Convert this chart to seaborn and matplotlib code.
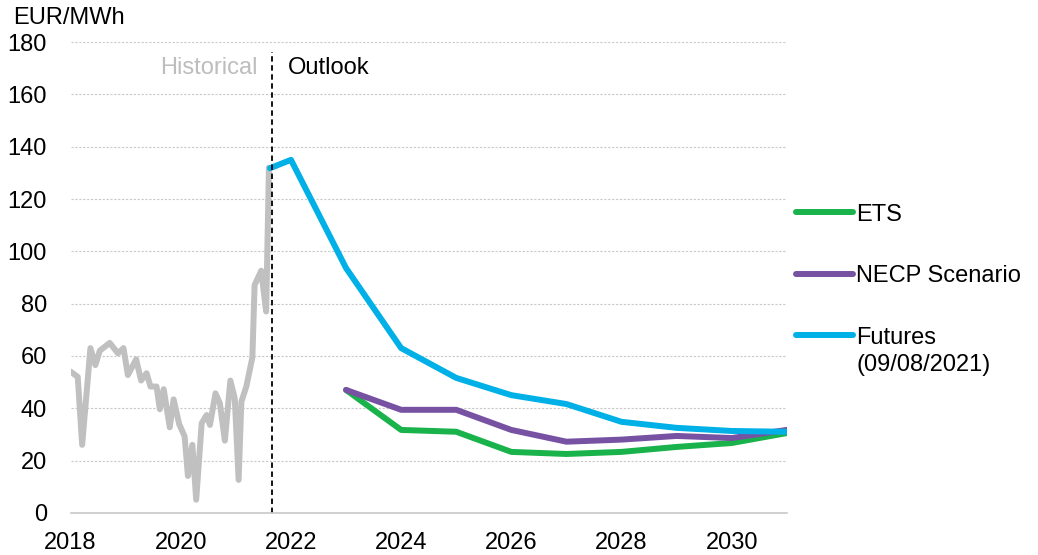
import numpy as np
import pandas as pd
import matplotlib
matplotlib.use("Agg")
import matplotlib.pyplot as plt
import seaborn as sns

# historical monthly price (x in fractional years)
hist_year = [2018.0, 2018.13, 2018.21, 2018.36, 2018.45, 2018.53, 2018.71, 2018.86, 2018.96,
             2019.04, 2019.19, 2019.28, 2019.38, 2019.45, 2019.56, 2019.62, 2019.69, 2019.8,
             2019.87, 2019.97, 2020.07, 2020.13, 2020.21, 2020.28, 2020.38, 2020.47, 2020.53,
             2020.63, 2020.71, 2020.8, 2020.9, 2020.98, 2021.05, 2021.1, 2021.19, 2021.3,
             2021.34, 2021.46, 2021.55, 2021.6]
hist_price = [54, 52, 26, 63, 56.5, 62, 65, 61, 63,
              52.7, 58.7, 50.6, 53.4, 48.3, 48.3, 39.6, 47.3, 32.7,
              43.4, 34, 29.2, 14.1, 26, 5, 34.3, 37.4, 33.6,
              45.7, 41.9, 27.6, 50.6, 43.8, 12.6, 42.5, 48.3, 59.5,
              87.1, 92.6, 77, 132]

years = [2023, 2024, 2025, 2026, 2027, 2028, 2029, 2030, 2031]
ets = [47, 31.7, 31, 23.3, 22.5, 23.3, 25.2, 26.7, 30.5]
necp = [47, 39.4, 39.4, 31.7, 27.2, 28, 29.4, 28.6, 31.7]
fut_year = [2021.62, 2022, 2023, 2024, 2025, 2026, 2027, 2028, 2029, 2030, 2031]
futures = [131.8, 135, 93.6, 63, 51.6, 45, 41.6, 34.8, 32.5, 31.3, 31]

labels = ["ETS", "NECP Scenario", "Futures"]
colors = ["#1AB24B", "#7752A3", "#00B0E6"]

df = pd.concat([
    pd.DataFrame({"year": years, "price": ets, "series": labels[0]}),
    pd.DataFrame({"year": years, "price": necp, "series": labels[1]}),
    pd.DataFrame({"year": fut_year, "price": futures, "series": labels[2]}),
])
hist = pd.DataFrame({"year": hist_year, "price": hist_price})

sns.set_style("white", {"text.color": "black", "xtick.color": "black", "ytick.color": "black"})
plt.rcParams["font.family"] = ["Liberation Sans", "DejaVu Sans"]
fs = 17

fig = plt.figure(figsize=(10.38, 5.55), dpi=100)
ax = fig.add_axes([0.068, 0.076, 0.69, 0.848])

sns.lineplot(data=hist, x="year", y="price", color="#C0C0C0", lw=4.3, ax=ax, legend=False)
sns.lineplot(data=df, x="year", y="price", hue="series", hue_order=labels,
             palette=colors, lw=4.3, ax=ax, sort=False)

ax.axvline(2021.65, color="black", ls=(0, (3, 2)), lw=1.3, ymax=0.979)
ax.text(2021.39, 170, "Historical", color="#BDBDBD", fontsize=fs, ha="right", va="center")
ax.text(2021.94, 170, "Outlook", color="black", fontsize=fs, ha="left", va="center")

ax.set_xlim(2018, 2031)
ax.set_ylim(0, 180)
ax.set_xticks(range(2018, 2031, 2))
ax.set_yticks(range(0, 181, 20))
ax.tick_params(labelsize=fs, length=0, labelcolor="black")
ax.tick_params(axis="y", pad=17)
ax.tick_params(axis="x", length=5, color="#C8C8C8", direction="out", pad=9)
ax.yaxis.grid(True, ls=(0, (2, 1.5)), color="#C8C8C8", lw=0.8)
ax.set_axisbelow(True)
for s in ["top", "right", "left"]:
    ax.spines[s].set_visible(False)
ax.spines["bottom"].set_color("#C8C8C8")
ax.spines["bottom"].set_linewidth(1.2)
ax.set_xlabel("")
ax.set_ylabel("")
fig.text(0.013, 0.967, "EUR/MWh", fontsize=fs, va="center", color="black")

leg = ax.legend(loc="center left", bbox_to_anchor=(1.0, 0.503), frameon=False, borderaxespad=0,
                fontsize=fs, handlelength=2.4, handletextpad=0.15, labelspacing=1.67)
for t in leg.get_texts():
    t.set_color("black")
ax.annotate("(09/08/2021)", xy=(0, 0), xycoords=leg.get_texts()[2], xytext=(0, -4),
            textcoords="offset points", fontsize=fs, va="top", ha="left",
            color="black", zorder=10, annotation_clip=False)

fig.savefig("out.png", dpi=100)
